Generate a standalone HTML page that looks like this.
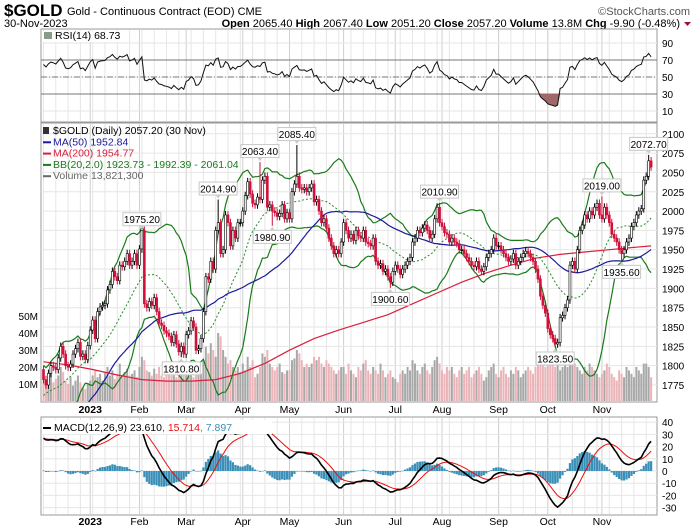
<!DOCTYPE html>
<html><head><meta charset="utf-8"><style>
body{margin:0;background:#fff;}
svg{display:block;font-family:"Liberation Sans",sans-serif;}
</style></head><body>
<svg id="chart" width="700" height="530" viewBox="0 0 700 530" xmlns="http://www.w3.org/2000/svg">
<defs>
<clipPath id="cm"><rect x="41" y="123" width="616" height="279"/></clipPath>
<clipPath id="cr"><rect x="41" y="29" width="616" height="93"/></clipPath>
<clipPath id="cd"><rect x="41" y="417" width="616" height="98"/></clipPath>
</defs>
<rect x="0" y="0" width="700" height="530" fill="#fff"/>
<text x="4" y="16" font-size="17" font-weight="bold">$GOLD</text>
<text x="67" y="15" font-size="11">Gold - Continuous Contract (EOD)  CME</text>
<text x="690" y="15" font-size="11" fill="#555" text-anchor="end">©StockCharts.com</text>
<text x="4" y="27" font-size="11">30-Nov-2023</text>
<text x="680" y="27" font-size="11" text-anchor="end"><tspan font-weight="bold">Open</tspan> 2065.40 <tspan font-weight="bold">High</tspan> 2067.40 <tspan font-weight="bold">Low</tspan> 2051.20 <tspan font-weight="bold">Close</tspan> 2057.20 <tspan font-weight="bold">Volume</tspan> 13.8M <tspan font-weight="bold">Chg</tspan> -9.90 (-0.48%)</text>
<path d="M684 22 L691 22 L687.5 26 Z" fill="#a01030"/>
<g id="g"></g>
</svg>
<script>
const pre=[1640,1630,1638,1642,1660,1670,1662,1655,1660,1645,1635,1632,1628,1620,1618,1632,1630,1625,1640,1642,1650,1658,1640,1635,1645,1638,1630,1640,1648,1670,1712,1715,1755,1765,1765,1770,1775,1772,1760,1745,1740,1750,1748,1752,1755,1745,1765,1770,1805,1795];
const closes=[
1782,1775,1790,1800,1798,1795,1810,1825,1815,1800,1798,1802,1815,1822,1830,1812,1815,1808,1826,
1846,1859,1835,1870,1876,1878,1880,1898,1905,1922,1915,1910,1930,1928,1935,1945,1930,1935,1945,1930,
1951,1975,1880,1875,1883,1878,1888,1870,1855,1852,1845,1842,1838,1830,1840,1828,1818,1825,1815,
1840,1845,1858,1850,1820,1822,1835,1870,1915,1912,1935,1925,1975,1985,1945,1950,1995,1985,1955,1975,1965,1985,1985,
2000,2020,2038,2022,2010,2008,2018,2015,2040,2045,2005,2008,2000,1998,1993,1997,2008,1990,1998,
1990,2025,2035,2045,2030,2028,2030,2025,2030,2035,2012,2015,2000,1985,1990,1978,1965,1955,1945,1950,1945,1960,
1985,1975,1965,1970,1962,1975,1968,1965,1975,1960,1958,1955,1965,1935,1930,1932,1922,1925,1915,1908,1922,
1930,1925,1918,1925,1930,1935,1940,1960,1965,1975,1972,1978,1982,1975,1965,1970,1990,2005,1985,
1980,1972,1970,1960,1965,1960,1958,1950,1950,1945,1940,1935,1930,1928,1935,1925,1922,1928,1940,1945,1950,1965,1955,
1955,1950,1945,1940,1935,1938,1945,1930,1935,1940,1945,1948,1945,1940,1935,1925,1912,1890,1878,1868,
1848,1840,1835,1828,1830,1862,1865,1875,1885,1930,1935,1925,1950,1975,1982,1995,1990,2000,1995,2005,2010,1995,
1990,2005,1995,1985,1970,1965,1960,1950,1945,1950,1960,1965,1980,1985,1995,2000,2003,2040,2045,2065,2057];
const volumes=[
14,12,16,18,11,13,15,20,17,12,10,14,9,12,15,11,8,7,10,
12,15,18,14,16,12,17,20,15,18,13,16,22,14,17,19,15,16,18,14,
20,26,24,18,17,15,19,16,20,15,14,17,16,15,18,14,17,21,16,
18,15,16,14,20,22,16,24,32,28,34,30,26,40,38,30,26,22,24,20,18,20,17,
22,18,26,20,24,14,16,20,28,26,30,22,20,18,20,22,17,16,18,
18,24,25,30,28,24,20,22,20,22,26,24,26,22,20,24,22,20,18,16,18,20,
20,16,22,18,16,14,20,18,22,24,18,16,20,18,16,22,18,14,16,18,14,
13,11,16,18,16,20,18,24,22,18,16,20,22,18,16,20,24,26,22,
18,16,20,18,20,16,14,18,20,16,18,20,14,16,18,20,16,12,14,18,20,22,16,
14,18,20,16,14,18,16,20,18,14,16,18,20,18,16,20,22,22,24,20,
24,22,22,20,24,18,20,22,20,26,24,22,20,18,16,20,18,22,20,18,16,14,
16,18,22,20,16,14,12,18,16,14,20,18,16,14,20,18,16,22,22,20,14];
const ma200Idx=[0,10,20,30,40,50,60,70,80,90,100,110,120,130,140,150,160,170,180,190,200,210,220,230,240,247];
const ma200Val=[1805,1801,1795,1788,1782,1780,1780,1782,1790,1803,1820,1835,1846,1856,1866,1880,1894,1908,1920,1930,1939,1944,1947,1950,1953,1955];
const annIdx=[40,56,71,88,93,103,141,161,208,227,235,246];
const annVal=[1975.20,1810.80,2014.90,2063.40,1980.90,2085.40,1900.60,2010.90,1823.50,2019.00,1935.60,2072.70];
const annUp=[1,0,1,1,0,1,0,1,0,1,0,1];
const monthLabels=['2023','Feb','Mar','Apr','May','Jun','Jul','Aug','Sep','Oct','Nov'];
const monthIdx=[19,39,58,81,100,122,143,162,185,205,227];
const priceTicks=[2100,2075,2050,2025,2000,1975,1950,1925,1900,1875,1850,1825,1800,1775];
const volTicks=[50,40,30,20,10];
const rsiTicks=[90,70,50,30,10];
const macdTicks=[40,30,20,10,0,-10,-20,-30];

const NS='http://www.w3.org/2000/svg';
const G0=document.getElementById('g');
let G=G0;
function el(t,a,p){const e=document.createElementNS(NS,t);for(const k in a)e.setAttribute(k,a[k]);(p||G).appendChild(e);return e;}
function clipGroup(id){G=el('g',{'clip-path':'url(#'+id+')'},G0);}
const L=41,R=657,N=closes.length;
const xs=i=>43.5+i*2.46;
const py=p=>385-(p-1775)*0.773;
const vy=v=>401-v*1.7;
const ry=v=>77-(v-50)*0.85;
const my=v=>471-v*1.22;
const all=pre.concat(closes),P=pre.length;
const opens=closes.map((c,i)=>all[P+i-1]);
const highs=closes.map((c,i)=>Math.max(c,opens[i])+5);
const lows=closes.map((c,i)=>Math.min(c,opens[i])-5);
annIdx.forEach((ix,k)=>{if(annUp[k])highs[ix]=annVal[k];else lows[ix]=annVal[k];});
function sma(n,i){let s=0;for(let k=0;k<n;k++)s+=all[P+i-k];return s/n;}
function sd(n,i,m){let s=0;for(let k=0;k<n;k++)s+=(all[P+i-k]-m)**2;return Math.sqrt(s/n);}
const rsi=[];{let ag=0,al=0;for(let k=1;k<=14;k++){const d=all[k]-all[k-1];if(d>0)ag+=d;else al-=d;}ag/=14;al/=14;
for(let k=15;k<all.length;k++){const d=all[k]-all[k-1];ag=(ag*13+Math.max(d,0))/14;al=(al*13+Math.max(-d,0))/14;if(k>=P)rsi.push(100-100/(1+ag/(al||1e-9)));}}
const macd=[],sig=[];{let e12=all[0],e26=all[0],s=0;for(let k=0;k<all.length;k++){e12+=(all[k]-e12)*2/13;e26+=(all[k]-e26)*2/27;const m=e12-e26;s=k==0?m:s+(m-s)*0.2;if(k>=P){macd.push(m);sig.push(s);}}}

function panel(y,h,name){el('rect',{x:L,y:y,width:R-L,height:h,fill:'#fff',stroke:'#999',},G0);}
function vgrid(y1,y2){for(let i=0;i<N;i+=5){el('line',{x1:xs(i),x2:xs(i),y1:y1,y2:y2,stroke:'#e6e6e6'});}
 monthIdx.forEach(i=>el('line',{x1:xs(i),x2:xs(i),y1:y1,y2:y2,stroke:'#cfcfcf'}));}
function axText(x,y,txt,name,anchor){const t=el('text',{x:x,y:y,'font-size':10,'text-anchor':anchor||'start'},G0);t.textContent=txt;return t;}

// RSI panel
panel(29,93,'rsi-panel');clipGroup('cr');vgrid(30,121);
rsiTicks.forEach(v=>{el('line',{x1:L,x2:R,y1:ry(v),y2:ry(v),stroke:'#e6e6e6'});axText(662,ry(v)+4,v,'rsi-tick-'+v);});
el('line',{x1:L,x2:R,y1:ry(70),y2:ry(70),stroke:'#777'});el('line',{x1:L,x2:R,y1:ry(30),y2:ry(30),stroke:'#777'});
el('line',{x1:L,x2:R,y1:ry(50),y2:ry(50),stroke:'#777','stroke-dasharray':'6,2,1,2'});
{let d='M'+xs(0)+' '+ry(30);rsi.forEach((v,i)=>d+=' L'+xs(i)+' '+ry(Math.min(v,30)));d+=' L'+xs(N-1)+' '+ry(30)+'Z';el('path',{d:d,fill:'#a06868'});}
{let d='';rsi.forEach((v,i)=>d+=(i?' L':'M')+xs(i).toFixed(1)+' '+ry(v).toFixed(1));const p=el('path',{d:d,fill:'none',stroke:'#111','stroke-width':1});}
{el('rect',{x:43,y:31,width:75,height:11,fill:'#fff'});el('rect',{x:44,y:32,width:8,height:7,fill:'#8a9a8a'});const t=el('text',{x:55,y:39,'font-size':10.5});t.textContent='RSI(14) 68.73';}

// Main panel
G=G0;panel(123,279,'price-panel');clipGroup('cm');vgrid(124,401);
priceTicks.forEach(v=>{el('line',{x1:L,x2:R,y1:py(v),y2:py(v),stroke:'#e6e6e6'});axText(662,py(v)+4,v,'price-tick-'+v);});
volTicks.forEach(v=>axText(38,vy(v)+4,v+'M','volume-tick-'+v,'end'));
volumes.forEach((v,i)=>{const up=closes[i]>=opens[i];const r=el('rect',{x:xs(i)-1,y:vy(v),width:2,height:401-vy(v),fill:up?'#a8a8a8':'#eab4b8'});});
{let u='',m='',lo='',a='';closes.forEach((c,i)=>{const mm=sma(20,i),s=sd(20,i,mm);const x=xs(i).toFixed(1);u+=(i?' L':'M')+x+' '+py(mm+2*s).toFixed(1);m+=(i?' L':'M')+x+' '+py(mm).toFixed(1);lo+=(i?' L':'M')+x+' '+py(mm-2*s).toFixed(1);a+=(i?' L':'M')+x+' '+py(sma(50,i)).toFixed(1);});
let p=el('path',{d:u,fill:'none',stroke:'#1a7a1a','stroke-width':1.2});
p=el('path',{d:lo,fill:'none',stroke:'#1a7a1a','stroke-width':1.2});
p=el('path',{d:m,fill:'none',stroke:'#2a8a2a','stroke-width':1,'stroke-dasharray':'2,2'});
p=el('path',{d:a,fill:'none',stroke:'#1a1a9a','stroke-width':1.2});}
{let d='';ma200Idx.forEach((ix,k)=>d+=(k?' L':'M')+xs(ix).toFixed(1)+' '+py(ma200Val[k]).toFixed(1));const p=el('path',{d:d,fill:'none',stroke:'#d8203c','stroke-width':1.2});}
closes.forEach((c,i)=>{const o=opens[i],x=xs(i);const down=c<all[P+i-1];const col=down?'#d0103a':'#000';
 el('line',{x1:x,x2:x,y1:py(highs[i]),y2:py(lows[i]),stroke:col,'stroke-width':1});
 const y1=py(Math.max(o,c)),hh=Math.max(1,Math.abs(py(o)-py(c)));
 const r=el('rect',{x:x-1,y:y1,width:2,height:hh,fill:c>o?'#fff':col,stroke:col,'stroke-width':0.6});
 });
G=G0;
annIdx.forEach((ix,k)=>{const x=xs(ix),v=annVal[k],up=annUp[k];const yv=py(v);const cy=up?yv-11:yv+11;
 el('path',{d:up?`M${x-3} ${cy+6} L${x} ${yv-1} L${x+3} ${cy+6}Z`:`M${x-3} ${cy-6} L${x} ${yv+1} L${x+3} ${cy-6}Z`,fill:'#ccc'});
 const b=el('rect',{x:x-19,y:cy-6.5,width:38,height:13,fill:'#fff',stroke:'#c8c8c8'});
 const t=el('text',{x:x,y:cy+4,'font-size':10,'text-anchor':'middle'});t.textContent=v.toFixed(2);});
[['$GOLD (Daily) 2057.20 (30 Nov)','#000','price-legend'],['MA(50) 1952.84','#1a1a9a','ma50-legend'],['MA(200) 1954.77','#d8203c','ma200-legend'],['BB(20,2.0) 1923.73 - 1992.39 - 2061.04','#1a7a1a','bb-legend'],['Volume 13,821,300','#666','volume-legend']].forEach((e,k)=>{const y=134+k*11.3;
 if(k>0)el('rect',{x:43,y:y-4,width:8,height:2,fill:e[1]});else el('rect',{x:43,y:y-7,width:6,height:7,fill:'#333'});
 const t=el('text',{x:53,y:y,'font-size':10.5,fill:e[1]});t.textContent=e[0];});

function xl(y){monthLabels.forEach((m,k)=>{const t=el('text',{x:xs(monthIdx[k]),y:y,'font-size':10.5,'text-anchor':'middle','font-weight':k==0?'bold':'normal'});t.textContent=m;});}
xl(413);

// MACD panel
panel(417,98,'macd-panel');clipGroup('cd');vgrid(418,514);
macdTicks.forEach(v=>{el('line',{x1:L,x2:R,y1:my(v),y2:my(v),stroke:'#e6e6e6'});axText(662,my(v)+4,v,'macd-tick-'+v);});
macd.forEach((m,i)=>{const h=m-sig[i];const y0=my(0),y1=my(h);const r=el('rect',{x:xs(i)-1.1,y:Math.min(y0,y1),width:2.2,height:Math.max(0.5,Math.abs(y1-y0)),fill:'#3a8fb8'});});
{let a='',b='';macd.forEach((m,i)=>{a+=(i?' L':'M')+xs(i).toFixed(1)+' '+my(m).toFixed(1);b+=(i?' L':'M')+xs(i).toFixed(1)+' '+my(sig[i]).toFixed(1);});
let p=el('path',{d:b,fill:'none',stroke:'#e81010','stroke-width':1});
p=el('path',{d:a,fill:'none',stroke:'#000','stroke-width':1.6});}
{el('rect',{x:42,y:420,width:230,height:14,fill:'#fff'});el('rect',{x:43,y:427,width:8,height:2,fill:'#000'});const t=el('text',{x:54,y:431,'font-size':10.5});
 t.innerHTML='MACD(12,26,9) 23.610<tspan fill="#e81010">, 15.714</tspan><tspan fill="#3a8fb8">, 7.897</tspan>';}
G=G0;
xl(525);
</script>
</body></html>
